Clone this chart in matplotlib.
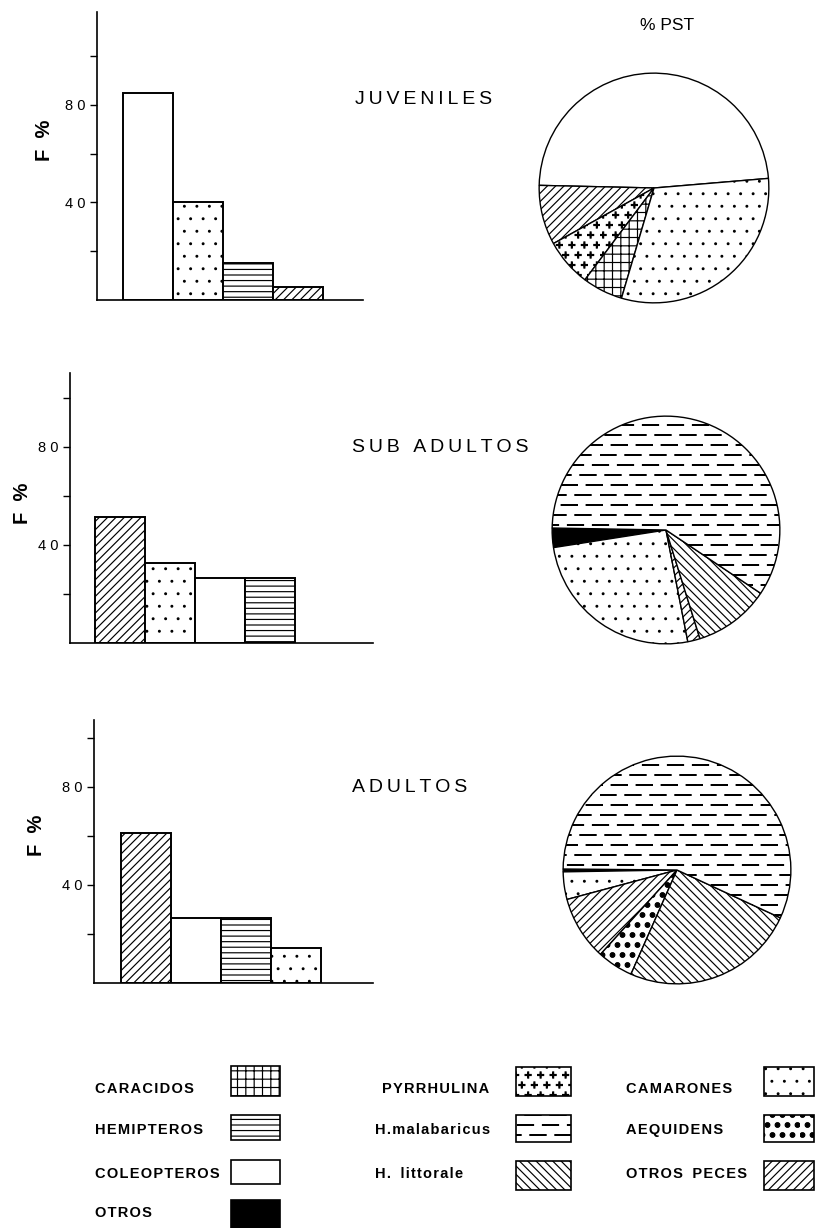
import numpy as np
import matplotlib
matplotlib.use('Agg')
import matplotlib.pyplot as plt
import matplotlib.hatch as mhatch
from matplotlib.path import Path
from matplotlib.patches import Rectangle

W, H, DPI = 816, 1228, 100

# ---------------- data ----------------
juv_bar_cats = ['COLEOPTEROS', 'CAMARONES', 'HEMIPTEROS', 'OTROS PECES']
juv_bar_vals = [85, 40, 15.3, 5.5]
sub_bar_cats = ['OTROS PECES', 'CAMARONES', 'COLEOPTEROS', 'HEMIPTEROS']
sub_bar_vals = [51.4, 32.7, 26.5, 26.5]
adu_bar_cats = ['OTROS PECES', 'COLEOPTEROS', 'HEMIPTEROS', 'CAMARONES']
adu_bar_vals = [61.3, 26.5, 26.5, 14.3]

juv_pie_cats = ['COLEOPTEROS', 'OTROS PECES', 'PYRRHULINA', 'CARACIDOS', 'CAMARONES']
juv_pie_vals = [48.3, 8.4, 6.7, 5.7, 30.9]
sub_pie_cats = ['OTROS', 'CAMARONES', 'OTROS PECES', 'H. littorale', 'H. malabaricus']
sub_pie_vals = [2.75, 25.6, 1.75, 10.8, 59.1]
adu_pie_cats = ['OTROS', 'CAMARONES', 'OTROS PECES', 'AEQUIDENS', 'H. littorale', 'H. malabaricus']
adu_pie_vals = [0.4, 3.9, 9.1, 5.1, 24.7, 56.7]

group_titles = ['JUVENILES', 'SUB ADULTOS', 'ADULTOS']
y_ticks = [20, 40, 60, 80, 100]
y_ticklabels = ['', '4 0', '', '8 0', '']
ylabel = 'F  %'
pie_title = '% PST'

legend_col1 = ['CARACIDOS', 'HEMIPTEROS', 'COLEOPTEROS', 'OTROS']
legend_col2 = ['PYRRHULINA', 'H.malabaricus', 'H. littorale']
legend_col3 = ['CAMARONES', 'AEQUIDENS', 'OTROS PECES']

# ---------------- custom hatch textures ----------------
MOVETO, LINETO, CLOSE = Path.MOVETO, Path.LINETO, Path.CLOSEPOLY


class _Custom(mhatch.HatchPatternBase):
    char = None

    def __init__(self, hatch, density):
        if hatch is not None and self.char in hatch:
            self.v, self.c = self.build()
        else:
            self.v = np.empty((0, 2))
            self.c = np.empty(0, dtype=Path.code_type)
        self.num_vertices = len(self.v)

    def set_vertices_and_codes(self, vertices, codes):
        vertices[:] = self.v
        codes[:] = self.c


def _segs(segs):
    v, c = [], []
    for x0, y0, x1, y1 in segs:
        v += [(x0, y0), (x1, y1)]
        c += [MOVETO, LINETO]
    return np.array(v, float), np.array(c, dtype=Path.code_type)


def _dots(rows, cols, r, k=10):
    v, c = [], []
    t = np.linspace(0, 2 * np.pi, k, endpoint=False)
    for i in range(rows):
        y = (i + 0.5) / rows
        for j in range(cols):
            x = (j + 0.25 + 0.5 * (i % 2)) / cols
            pts = np.c_[x + r * np.cos(t), y + r * np.sin(t)]
            v += list(pts) + [pts[0]]
            c += [MOVETO] + [LINETO] * (k - 1) + [CLOSE]
    return np.array(v, float), np.array(c, dtype=Path.code_type)


class PlusHatch(_Custom):          # '*'  -> scattered small crosses
    char = '*'

    def build(self):
        rows, cols, a, d = 10, 8, 0.03, 0.005
        segs = []
        for i in range(rows):
            y = (i + 0.5) / rows
            for j in range(cols):
                x = (j + 0.25 + 0.5 * (i % 2)) / cols
                for o in (-d, d):
                    segs.append((x - a, y + o, x + a, y + o))
                    segs.append((x + o, y - a, x + o, y + a))
        return _segs(segs)


class SmallDots(_Custom):          # '.'  -> sparse fine dots
    char = '.'

    def build(self):
        return _dots(8, 8, 0.009)


class BigDots(_Custom):            # 'o'  -> large filled dots
    char = 'o'

    def build(self):
        return _dots(10, 10, 0.024)


class DashHatch(_Custom):          # 'O'  -> broken horizontal dashes
    char = 'O'

    def build(self):
        rows, period, L, th = 10, 0.25, 0.16, 0.007
        shifts = [0.0, 0.45, 0.2, 0.7]
        segs = []
        for i in range(rows):
            y = (i + 0.5) / rows
            s = shifts[i % 4] * period
            for j in range(4):
                x0 = j * period + s
                x1 = x0 + L
                for yy in (y - th / 2, y + th / 2):
                    if x1 <= 1:
                        segs.append((x0, yy, x1, yy))
                    else:
                        segs.append((x0, yy, 1.0, yy))
                        segs.append((0.0, yy, x1 - 1.0, yy))
        return _segs(segs)


_rep = {mhatch.Stars: PlusHatch, mhatch.SmallFilledCircles: SmallDots,
        mhatch.SmallCircles: BigDots, mhatch.LargeCircles: DashHatch}
mhatch._hatch_types = [_rep.get(t, t) for t in mhatch._hatch_types]

plt.rcParams['hatch.linewidth'] = 0.85
plt.rcParams['font.family'] = ['Liberation Sans', 'DejaVu Sans']

# ---------------- styles per category ----------------
hatch_of = {'CARACIDOS': '++', 'HEMIPTEROS': '---', 'COLEOPTEROS': None,
            'OTROS': None, 'PYRRHULINA': '*', 'H.malabaricus': 'O',
            'H. malabaricus': 'O', 'H.littorale': '\\\\\\\\',
            'H. littorale': '\\\\\\\\', 'CAMARONES': '.', 'AEQUIDENS': 'o',
            'OTROS PECES': '////'}
face_of = {k: 'white' for k in hatch_of}
face_of['OTROS'] = 'black'

fig = plt.figure(figsize=(W / DPI, H / DPI), dpi=DPI)
fig.patch.set_facecolor('white')


def px_axes(x0, y0, x1, y1):
    return fig.add_axes([x0 / W, 1 - y1 / H, (x1 - x0) / W, (y1 - y0) / H])


# ---------------- bar panels ----------------
bar_specs = [
    (juv_bar_cats, juv_bar_vals, (97, 12, 363, 300), (-0.02, 5.3), 118),
    (sub_bar_cats, sub_bar_vals, (70, 373, 373, 643), (0.0, 6.06), 110.2),
    (adu_bar_cats, adu_bar_vals, (94, 720, 373, 983), (-0.04, 5.54), 107.3),
]
for cats, vals, box, xl, ytop in bar_specs:
    ax = px_axes(*box)
    xs = np.arange(1, len(vals) + 1)
    bars = ax.bar(xs, vals, width=1.0, edgecolor='black', linewidth=1.4,
                  color=[face_of[c] for c in cats])
    for b, c in zip(bars, cats):
        b.set_hatch(hatch_of[c])
    ax.set_xlim(*xl)
    ax.set_ylim(0, ytop)
    for s in ['top', 'right']:
        ax.spines[s].set_visible(False)
    for s in ['left', 'bottom']:
        ax.spines[s].set_linewidth(1.2)
    ax.set_xticks([])
    ax.set_yticks(y_ticks)
    ax.set_yticklabels(y_ticklabels)
    ax.tick_params(axis='y', length=5, width=1.0, direction='out',
                   labelsize=10.5, pad=3)
    ax.patch.set_alpha(0)

# ---------------- pies ----------------
pie_specs = [
    (juv_pie_cats, juv_pie_vals, (654, 188), 116, 4.8),
    (sub_pie_cats, sub_pie_vals, (666, 530), 115, 179.0),
    (adu_pie_cats, adu_pie_vals, (677, 870), 115, 179.5),
]
for cats, vals, (cx, cy), r, start in pie_specs:
    ax = px_axes(cx - r, cy - r, cx + r, cy + r)
    ax.pie(vals, startangle=start, counterclock=True, radius=1.0,
           colors=[face_of[c] for c in cats],
           hatch=[hatch_of[c] for c in cats],
           wedgeprops=dict(edgecolor='black', linewidth=1.0))
    ax.set_xlim(-1.01, 1.01)
    ax.set_ylim(-1.01, 1.01)
    ax.set_aspect('equal')

# ---------------- overlay: texts and legend ----------------
ov = fig.add_axes([0, 0, 1, 1])
ov.set_xlim(0, W)
ov.set_ylim(H, 0)
ov.axis('off')


def spaced(s, gap='\u2009'):
    out = ''
    for i, ch in enumerate(s):
        out += ch
        if i < len(s) - 1:
            out += ' ' if ch == ' ' else gap
    return out


title_pos = [(355, 100), (352, 448), (352, 788)]
for t, (x, y) in zip(group_titles, title_pos):
    ov.text(x, y, spaced(t), fontsize=14, ha='left', va='center')

for (x, y) in [(44, 140), (22, 503), (37, 835)]:
    ov.text(x, y, ylabel, fontsize=14.5, fontweight='bold', rotation=90,
            ha='center', va='center')

ov.text(667, 25, pie_title, fontsize=12.5, ha='center', va='center')

text_rows_y = [1089, 1130, 1174, 1213]
box_rows_1 = [(1066, 1096), (1115, 1140), (1160, 1184), (1200, 1228)]
box_rows_23 = [(1067, 1096), (1115, 1142), (1161, 1190)]
col_specs = [(legend_col1, [95, 95, 95, 95], 231, 280, box_rows_1),
             (legend_col2, [382, 375, 375], 516, 571, box_rows_23),
             (legend_col3, [626, 626, 626], 764, 814, box_rows_23)]
for names, txs, bx0, bx1, rows in col_specs:
    for i, name in enumerate(names):
        y0, y1 = rows[i]
        label = spaced(name, '\u200a')
        ov.text(txs[i], text_rows_y[i], label, fontsize=10.5,
                fontweight='bold', ha='left', va='center')
        ov.add_patch(Rectangle((bx0, y0), bx1 - bx0, y1 - y0,
                               facecolor=face_of[name], edgecolor='black',
                               linewidth=1.2, hatch=hatch_of[name]))

fig.savefig('out.png', dpi=DPI, facecolor='white')
